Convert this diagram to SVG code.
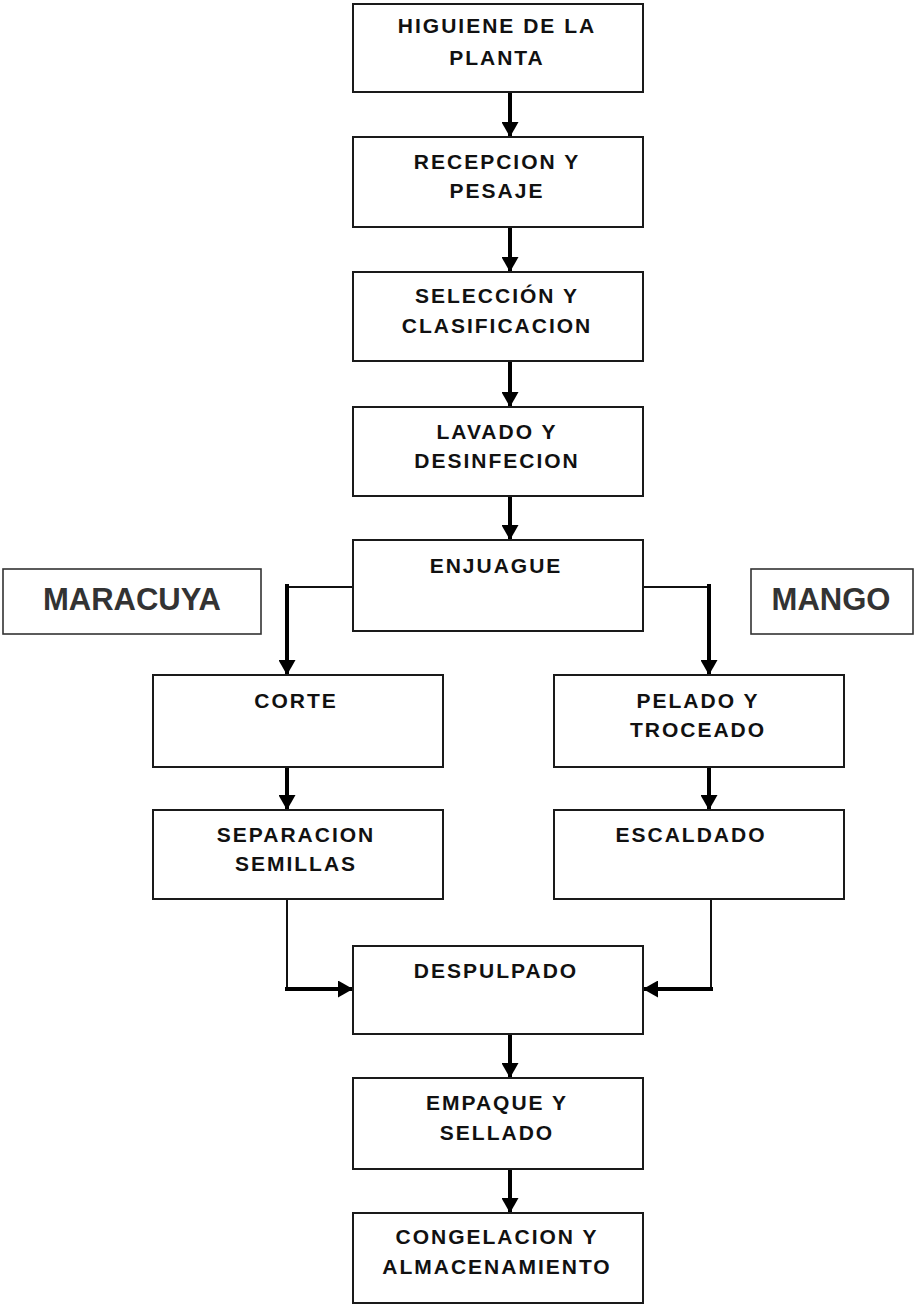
<svg xmlns="http://www.w3.org/2000/svg" width="915" height="1305" viewBox="0 0 915 1305">
<style>
.box{fill:#fff;stroke:#1a1a1a;stroke-width:2}
.tag{fill:#fff;stroke:#333;stroke-width:1.6}
.t{font-family:"Liberation Sans",Arial,sans-serif;font-weight:bold;font-size:21px;letter-spacing:2px;fill:#111;text-anchor:middle}
.tl{font-family:"Liberation Sans",Arial,sans-serif;font-weight:bold;font-size:31px;fill:#333;text-anchor:middle}
.thick{fill:none;stroke:#000;stroke-width:4}
.thin{fill:none;stroke:#111;stroke-width:2}
</style>
<defs>
<marker id="ah" viewBox="0 0 15 17" refX="15" refY="8.5" markerWidth="15" markerHeight="17" markerUnits="userSpaceOnUse" orient="auto">
<path d="M0,0 L15,8.5 L0,17 z" fill="#000"/>
</marker>
</defs>
<rect width="915" height="1305" fill="#fff"/>
<g id="connectors">
<line class="thick" x1="510" y1="92" x2="510" y2="137" marker-end="url(#ah)"/>
<line class="thick" x1="510" y1="227" x2="510" y2="272" marker-end="url(#ah)"/>
<line class="thick" x1="510" y1="361" x2="510" y2="407" marker-end="url(#ah)"/>
<line class="thick" x1="510" y1="496" x2="510" y2="540" marker-end="url(#ah)"/>
<polyline class="thin" points="353,587 287,587"/>
<line class="thick" x1="287" y1="584" x2="287" y2="675" marker-end="url(#ah)"/>
<polyline class="thin" points="643,587 709,587"/>
<line class="thick" x1="709" y1="584" x2="709" y2="675" marker-end="url(#ah)"/>
<line class="thick" x1="287" y1="767" x2="287" y2="810" marker-end="url(#ah)"/>
<line class="thick" x1="709" y1="767" x2="709" y2="810" marker-end="url(#ah)"/>
<polyline class="thin" points="287,899 287,989"/>
<line class="thick" x1="285" y1="989" x2="353" y2="989" marker-end="url(#ah)"/>
<polyline class="thin" points="711,899 711,989"/>
<line class="thick" x1="713" y1="989" x2="643" y2="989" marker-end="url(#ah)"/>
<line class="thick" x1="510" y1="1034" x2="510" y2="1078" marker-end="url(#ah)"/>
<line class="thick" x1="510" y1="1169" x2="510" y2="1213" marker-end="url(#ah)"/>
</g>
<g id="higiene">
<rect class="box" x="353" y="4" width="290" height="88"/>
<text class="t" x="497" y="33">HIGUIENE DE LA</text>
<text class="t" x="497" y="65">PLANTA</text>
</g>
<g id="recepcion">
<rect class="box" x="353" y="137" width="290" height="90"/>
<text class="t" x="497" y="169">RECEPCION Y</text>
<text class="t" x="497" y="198">PESAJE</text>
</g>
<g id="seleccion">
<rect class="box" x="353" y="272" width="290" height="89"/>
<text class="t" x="497" y="303">SELECCIÓN Y</text>
<text class="t" x="497" y="333">CLASIFICACION</text>
</g>
<g id="lavado">
<rect class="box" x="353" y="407" width="290" height="89"/>
<text class="t" x="497" y="439">LAVADO Y</text>
<text class="t" x="497" y="468">DESINFECION</text>
</g>
<g id="enjuague">
<rect class="box" x="353" y="540" width="290" height="91"/>
<text class="t" x="496" y="573">ENJUAGUE</text>
</g>
<g id="maracuya">
<rect class="tag" x="3" y="569" width="258" height="65"/>
<text class="tl" x="132" y="610">MARACUYA</text>
</g>
<g id="mango">
<rect class="tag" x="751" y="569" width="162" height="65"/>
<text class="tl" x="831" y="610">MANGO</text>
</g>
<g id="corte">
<rect class="box" x="153" y="675" width="290" height="92"/>
<text class="t" x="296" y="708">CORTE</text>
</g>
<g id="pelado">
<rect class="box" x="554" y="675" width="290" height="92"/>
<text class="t" x="698" y="708">PELADO Y</text>
<text class="t" x="698" y="737">TROCEADO</text>
</g>
<g id="separacion">
<rect class="box" x="153" y="810" width="290" height="89"/>
<text class="t" x="296" y="842">SEPARACION</text>
<text class="t" x="296" y="871">SEMILLAS</text>
</g>
<g id="escaldado">
<rect class="box" x="554" y="810" width="290" height="89"/>
<text class="t" x="691" y="842">ESCALDADO</text>
</g>
<g id="despulpado">
<rect class="box" x="353" y="946" width="290" height="88"/>
<text class="t" x="496" y="978">DESPULPADO</text>
</g>
<g id="empaque">
<rect class="box" x="353" y="1078" width="290" height="91"/>
<text class="t" x="497" y="1110">EMPAQUE Y</text>
<text class="t" x="497" y="1140">SELLADO</text>
</g>
<g id="congelacion">
<rect class="box" x="353" y="1213" width="290" height="90"/>
<text class="t" x="497" y="1244">CONGELACION Y</text>
<text class="t" x="497" y="1274">ALMACENAMIENTO</text>
</g>
</svg>
